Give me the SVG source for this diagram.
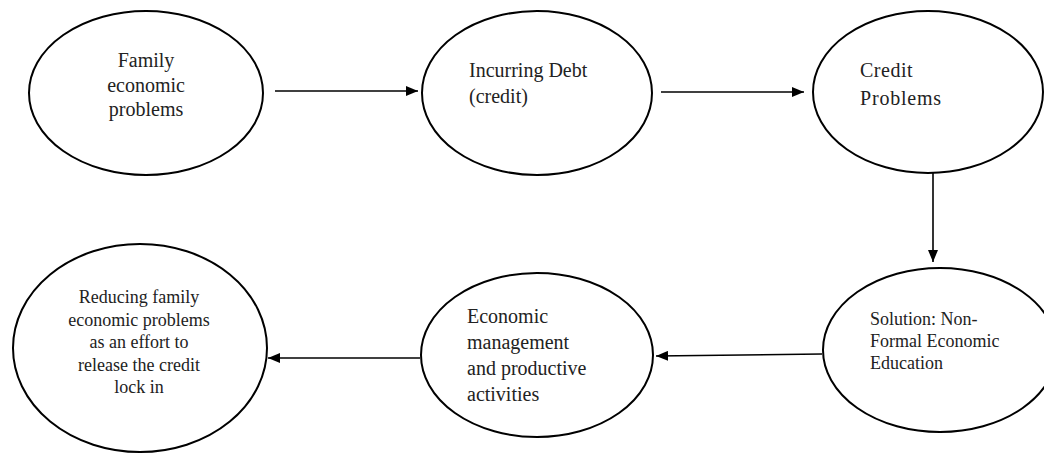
<svg xmlns="http://www.w3.org/2000/svg" width="1044" height="454" viewBox="0 0 1044 454">
<style>
.node ellipse{fill:#fff;stroke:#000;stroke-width:2}
.node text{font-family:"Liberation Serif","Times New Roman",serif;font-size:20px;fill:#222}
.node text.s{font-size:18px}
.c{text-anchor:middle}
.conn line{stroke:#000;stroke-width:1.6;fill:none}
</style>
<defs>
<marker id="ah" viewBox="0 0 12 10" refX="12" refY="5" markerWidth="12" markerHeight="10" markerUnits="userSpaceOnUse" orient="auto">
<path d="M0,0 L12,5 L0,10 z" fill="#000"/>
</marker>
</defs>
<g class="conn">
<line x1="275" y1="91" x2="418" y2="91" marker-end="url(#ah)"/>
<line x1="661" y1="92" x2="804" y2="92" marker-end="url(#ah)"/>
<line x1="933" y1="173" x2="933" y2="262" marker-end="url(#ah)"/>
<line x1="822" y1="354" x2="656" y2="356" marker-end="url(#ah)"/>
<line x1="420" y1="358" x2="268" y2="358" marker-end="url(#ah)"/>
</g>
<g id="n1" class="node">
<ellipse cx="146" cy="93" rx="117" ry="82"/>
<text class="c" x="146" y="67">Family</text>
<text class="c" x="146" y="92">economic</text>
<text class="c" x="146" y="116">problems</text>
</g>
<g id="n2" class="node">
<ellipse cx="537" cy="93" rx="115" ry="82"/>
<text x="469" y="77">Incurring Debt</text>
<text x="469" y="103">(credit)</text>
</g>
<g id="n3" class="node">
<ellipse cx="928" cy="92" rx="115" ry="81"/>
<text x="860" y="77" style="letter-spacing:0.5px">Credit</text>
<text x="860" y="105" style="letter-spacing:0.8px">Problems</text>
</g>
<g id="n4" class="node">
<ellipse cx="940" cy="350" rx="117" ry="82"/>
<text class="s" x="870" y="325">Solution: Non-</text>
<text class="s" x="870" y="347">Formal Economic</text>
<text class="s" x="870" y="369">Education</text>
</g>
<g id="n5" class="node">
<ellipse cx="537" cy="355" rx="116" ry="82"/>
<text x="467" y="323">Economic</text>
<text x="467" y="349">management</text>
<text x="467" y="375">and productive</text>
<text x="467" y="401">activities</text>
</g>
<g id="n6" class="node">
<ellipse cx="140" cy="348" rx="127" ry="104"/>
<text class="c s" x="139" y="303">Reducing family</text>
<text class="c s" x="139" y="326">economic problems</text>
<text class="c s" x="139" y="348">as an effort to</text>
<text class="c s" x="139" y="371">release the credit</text>
<text class="c s" x="139" y="393">lock in</text>
</g>
</svg>
